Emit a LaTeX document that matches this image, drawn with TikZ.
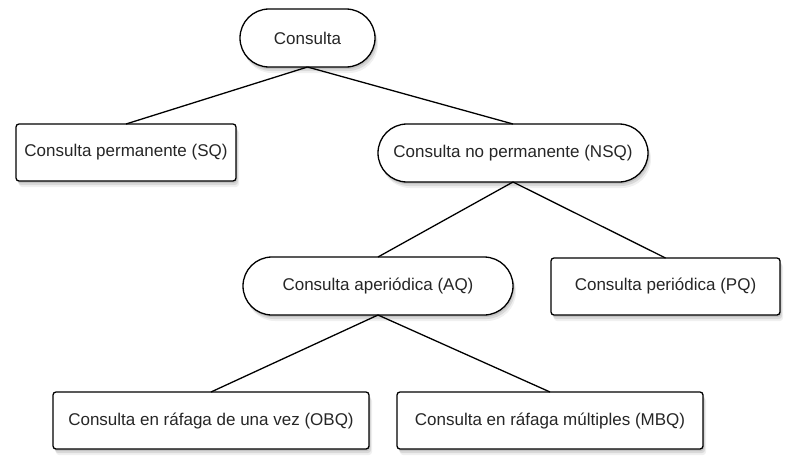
\documentclass[tikz,border=0pt]{standalone}
\usepackage{fontspec}
\setmainfont{Liberation Sans}
\usetikzlibrary{shapes.misc,shadows}

\begin{document}
\begin{tikzpicture}[x=1pt, y=-1pt, line width=1.3pt,
    main/.style = {draw, fill=white, text=black!85, font=\fontsize{17}{20}\selectfont,
                   inner sep=0pt, outer sep=0pt,
                   drop shadow={shadow xshift=1pt, shadow yshift=-2pt, opacity=0.25},
                   drop shadow={shadow xshift=2pt, shadow yshift=-4pt, opacity=0.2},
                   drop shadow={shadow xshift=3pt, shadow yshift=-6pt, opacity=0.12}},
    caja/.style = {main, rectangle, rounded corners=3pt},
    pill/.style = {main, rounded rectangle}]
            \useasboundingbox (0,0) rectangle (798,471);

            \node[pill, minimum width=135pt, minimum height=58pt] (1) at (307.5,38) {Consulta};
            \node[caja, minimum width=220pt, minimum height=57pt] (2) at (126,152.5) {Consulta permanente (SQ)};
            \node[pill, minimum width=270pt, minimum height=58pt] (3) at (513,153) {Consulta no permanente (NSQ)};
            \node[pill, minimum width=270pt, minimum height=58pt] (4) at (378,286) {Consulta aperiódica (AQ)};
            \node[caja, minimum width=229pt, minimum height=57pt] (5) at (665.5,286.5) {Consulta periódica (PQ)};
            \node[caja, minimum width=316pt, minimum height=57pt] (6) at (211,420.5) {Consulta en ráfaga de una vez (OBQ)};
            \node[caja, minimum width=306pt, minimum height=57pt] (7) at (550,420.5) {Consulta en ráfaga múltiples (MBQ)};

            \draw (1.south) to (2.north);
            \draw (1.south) to (3.north);
            \draw (3.south) to (4.north);
            \draw (3.south) to (5.north);
            \draw (4.south) to (6.north);
            \draw (4.south) to (7.north);

        \end{tikzpicture}
\end{document}
